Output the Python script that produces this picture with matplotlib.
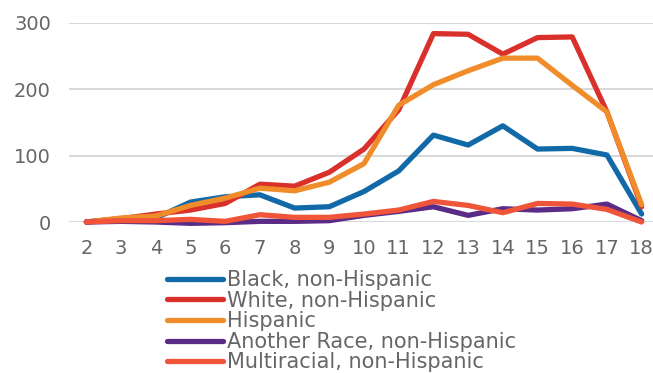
import matplotlib
matplotlib.use("Agg")
import matplotlib.pyplot as plt

# age in years
ages = list(range(2, 19))

black = [0, 5, 6, 30, 38, 41, 21, 23, 46, 77, 131, 116, 145, 110, 111, 101, 12]
white = [0, 5, 12, 18, 28, 57, 54, 75, 110, 169, 284, 283, 253, 278, 279, 166, 23]
hispanic = [0, 6, 9, 25, 36, 51, 47, 60, 88, 176, 207, 228, 247, 247, 206, 166, 26]
another_race = [0, 1, 0, -2, -1, 1, 1, 2, 10, 16, 23, 10, 20, 18, 20, 27, 2]
multiracial = [0, 2, 2, 4, 1, 11, 7, 7, 12, 18, 31, 25, 14, 28, 27, 19, 0]

series = [
    ("Black, non-Hispanic", black, "#116aa7"),
    ("White, non-Hispanic", white, "#d9302b"),
    ("Hispanic", hispanic, "#f18c2a"),
    ("Another Race, non-Hispanic", another_race, "#5b2c87"),
    ("Multiracial, non-Hispanic", multiracial, "#f0553a"),
]

text_color = "#666666"
plt.rcParams["font.family"] = ["DejaVu Sans"]

fig = plt.figure(figsize=(6.53, 3.73), dpi=100)
ax = fig.add_axes([69 / 653, 151 / 373, 590 / 653, 199 / 373])

for label, vals, color in series:
    ax.plot(ages, vals, color=color, lw=3.8, label=label, clip_on=False,
            solid_capstyle="round")

ax.set_xlim(1.5, 18.5)
ax.set_ylim(0, 300)
ax.set_xticks(ages)
ax.set_yticks([0, 100, 200, 300])
ax.yaxis.grid(True, color="#d9d9d9", lw=1.5)
ax.set_axisbelow(True)
for s in ax.spines.values():
    s.set_visible(False)
ax.tick_params(axis="both", length=0, labelsize=14, colors=text_color)
ax.tick_params(axis="y", pad=13)
ax.tick_params(axis="x", pad=12)

fig.legend(loc="upper left", bbox_to_anchor=(167 / 653, 1 - 270 / 373),
           frameon=False, fontsize=15, labelcolor=text_color,
           handlelength=2.7, handletextpad=0.2, labelspacing=0.03,
           borderpad=0, borderaxespad=0)

fig.savefig("out.png", dpi=100)
